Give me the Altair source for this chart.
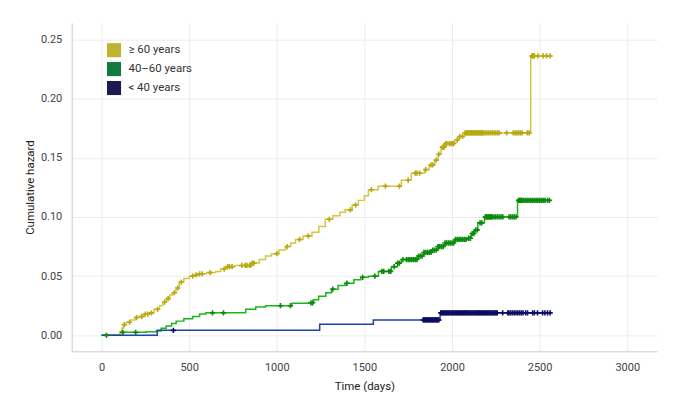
import altair as alt
import pandas as pd

FONT = "Roboto, Liberation Sans, sans-serif"

groups = ["≥ 60 years", "40–60 years", "< 40 years"]
legend_colors = ["#bdb42f", "#127a3f", "#1b1b50"]
line_colors = ["#d4c644", "#1db51d", "#2040aa"]
cens_colors = ["#b8a914", "#0a8a0a", "#0c0c66"]

# step events: (time in days, cumulative hazard)
old_t = [0, 104, 115, 125, 142, 165, 190, 217, 245, 274, 300, 331, 350, 370, 390, 405, 425, 444, 470, 501,
         530, 558, 600, 652, 680, 709, 760, 860, 900, 936, 970, 1012, 1050, 1080, 1107, 1150, 1201, 1240,
         1277, 1320, 1360, 1390, 1430, 1466, 1500, 1523, 1579, 1711, 1768, 1844, 1870, 1901, 1920, 1938,
         1960, 2015, 2040, 2071, 2449, 2560]
old_h = [0.0, 0.003, 0.006, 0.009, 0.011, 0.013, 0.015, 0.016, 0.018, 0.019, 0.022, 0.025, 0.028, 0.031,
         0.034, 0.036, 0.040, 0.045, 0.048, 0.050, 0.051, 0.052, 0.053, 0.054, 0.056, 0.058, 0.059, 0.061,
         0.064, 0.067, 0.069, 0.072, 0.075, 0.078, 0.081, 0.084, 0.087, 0.092, 0.098, 0.101, 0.104, 0.106,
         0.110, 0.114, 0.118, 0.123, 0.126, 0.131, 0.137, 0.140, 0.144, 0.148, 0.153, 0.159, 0.162, 0.165,
         0.168, 0.171, 0.236, 0.236]

mid_t = [0, 121, 255, 312, 340, 369, 400, 426, 470, 520, 560, 596, 823, 880, 936, 1087, 1182, 1210, 1239,
         1280, 1313, 1350, 1390, 1440, 1480, 1523, 1580, 1654, 1690, 1711, 1806, 1840, 1881, 1920, 1958,
         2015, 2090, 2110, 2128, 2147, 2185, 2374, 2556]
mid_h = [0.0, 0.0025, 0.003, 0.0036, 0.006, 0.0078, 0.010, 0.012, 0.014, 0.016, 0.018, 0.019, 0.022, 0.024,
         0.025, 0.027, 0.0275, 0.030, 0.033, 0.036, 0.039, 0.042, 0.044, 0.047, 0.049, 0.050, 0.054, 0.058,
         0.061, 0.064, 0.067, 0.070, 0.072, 0.075, 0.078, 0.081, 0.082, 0.086, 0.089, 0.095, 0.100, 0.114,
         0.114]

young_t = [0, 318, 1245, 1551, 1932, 2560]
young_h = [0.0, 0.0042, 0.0093, 0.013, 0.019, 0.019]

# censoring times
old_c = [130, 160, 200, 230, 250, 265, 285, 320, 360, 380, 415, 435, 455, 520, 540, 560, 575, 620, 700,
         720, 730, 745, 800, 820, 830, 845, 850, 860, 870, 1000, 1060, 1130, 1180, 1300, 1420, 1450, 1540,
         1620, 1700, 1750, 1790, 1800, 1815, 1850, 1880, 1890, 1910, 1925, 1945, 1950, 1955, 1965, 1970,
         1985, 1995, 2000, 2010, 2030, 2045, 2060, 2075, 2080, 2085, 2090, 2095, 2100, 2105, 2110, 2115,
         2120, 2125, 2130, 2135, 2140, 2145, 2150, 2155, 2160, 2165, 2170, 2175, 2180, 2190, 2200, 2210,
         2220, 2230, 2240, 2250, 2260, 2270, 2312, 2350, 2360, 2370, 2380, 2390, 2400, 2430, 2440, 2455,
         2460, 2465, 2470, 2490, 2520, 2540, 2560]
mid_c = [28, 121, 195, 633, 696, 1021, 1078, 1195, 1205, 1320, 1400, 1490, 1560, 1600, 1610, 1640, 1650,
         1670, 1690, 1700, 1720, 1740, 1750, 1760, 1770, 1780, 1790, 1800, 1810, 1820, 1830, 1840, 1850,
         1860, 1870, 1880, 1890, 1900, 1910, 1920, 1930, 1940, 1950, 1960, 1970, 1980, 1990, 2000, 2010,
         2020, 2030, 2040, 2050, 2060, 2070, 2080, 2095, 2105, 2115, 2125, 2135, 2145, 2160, 2170, 2190,
         2195, 2200, 2205, 2210, 2215, 2220, 2225, 2230, 2240, 2250, 2260, 2270, 2280, 2290, 2325, 2335,
         2345, 2355, 2365, 2380, 2385, 2390, 2395, 2400, 2410, 2420, 2430, 2440, 2450, 2460, 2470, 2480,
         2490, 2500, 2510, 2520, 2530, 2545, 2556]
young_c = [410, 1835, 1840, 1845, 1850, 1855, 1860, 1865, 1870, 1875, 1880, 1885, 1890, 1895, 1900, 1905,
           1910, 1915, 1920, 1925, 1936, 1940, 1946, 1952, 1958, 1964, 1970, 1976, 1982, 1988, 1994, 2000,
           2006, 2012, 2018, 2024, 2030, 2036, 2042, 2048, 2054, 2060, 2066, 2072, 2078, 2084, 2090, 2096,
           2102, 2108, 2114, 2120, 2126, 2132, 2138, 2144, 2150, 2156, 2162, 2168, 2174, 2180, 2186, 2192,
           2198, 2204, 2210, 2216, 2222, 2228, 2234, 2240, 2246, 2252, 2258, 2289, 2318, 2325, 2335, 2345,
           2355, 2365, 2375, 2385, 2395, 2405, 2420, 2431, 2460, 2470, 2488, 2517, 2530, 2545, 2560]

series = [(groups[0], old_t, old_h, old_c), (groups[1], mid_t, mid_h, mid_c), (groups[2], young_t, young_h, young_c)]

def lookup(ts, hs, t):
    v = hs[0]
    for a, b in zip(ts, hs):
        if a <= t:
            v = b
    return v

lines = []
cens = []
for g, ts, hs, cs in series:
    for a, b in zip(ts, hs):
        lines.append({"group": g, "time": a, "haz": b})
    for c in cs:
        cens.append({"grp": g, "time": c, "haz": lookup(ts, hs, c)})
lines_df = pd.DataFrame(lines)
cens_df = pd.DataFrame(cens)
legend_df = pd.DataFrame({"lab": groups, "time": [0, 0, 0], "haz": [0.0, 0.0, 0.0]})

xs = alt.Scale(domain=[-170, 3170], nice=False, zero=False)
ys = alt.Scale(domain=[-0.0135, 0.264], nice=False, zero=False)

x_enc = alt.X("time:Q", scale=xs, title="Time (days)",
              axis=alt.Axis(values=[0, 500, 1000, 1500, 2000, 2500, 3000], format="d"))
y_enc = alt.Y("haz:Q", scale=ys, title="Cumulative hazard",
              axis=alt.Axis(values=[0, 0.05, 0.10, 0.15, 0.20, 0.25], format=".2f"))

legend_layer = alt.Chart(legend_df).mark_square(size=0, opacity=1).encode(
    x=x_enc,
    y=y_enc,
    fill=alt.Fill("lab:N", scale=alt.Scale(domain=groups, range=legend_colors),
                  legend=alt.Legend(title=None, orient="none", legendX=35, legendY=20,
                                    symbolType="square", symbolSize=200, symbolOpacity=1,
                                    symbolStrokeWidth=0, rowPadding=4, labelFontSize=11.5,
                                    labelFont=FONT, labelColor="#333333", padding=0,
                                    labelOffset=7)),
)

line_layer = alt.Chart(lines_df).mark_line(interpolate="step-after", strokeWidth=1.5).encode(
    x=alt.X("time:Q", scale=xs),
    y=alt.Y("haz:Q", scale=ys),
    stroke=alt.Stroke("group:N", scale=alt.Scale(domain=groups, range=line_colors), legend=None),
    detail="group:N",
)

plus = "M-1,0H1M0,-1V1"
cens_layer = alt.Chart(cens_df).mark_point(shape=plus, size=28, strokeWidth=1.6, filled=False, opacity=1).encode(
    x=alt.X("time:Q", scale=xs),
    y=alt.Y("haz:Q", scale=ys),
    color=alt.Color("grp:N", scale=alt.Scale(domain=groups, range=cens_colors), legend=None),
)

chart = alt.layer(legend_layer, line_layer, cens_layer).resolve_scale(
    fill="independent", stroke="independent", color="independent"
).properties(
    width=588, height=330,
    autosize=alt.AutoSizeParams(type="none"),
    padding={"left": 64, "top": 14, "right": 10, "bottom": 40},
).configure_view(stroke=None).configure_axis(
    labelFont=FONT, titleFont=FONT, labelFontSize=11, titleFontSize=11.5,
    labelColor="#444444", titleColor="#222222", titleFontWeight="normal",
    gridColor="#ececec", gridWidth=1, domainColor="#cccccc", ticks=False,
).configure_axisX(labelPadding=10, titlePadding=8).configure_axisY(labelPadding=10, titlePadding=5)

chart.save("out.html", embed_options={"renderer": "svg", "actions": False})
